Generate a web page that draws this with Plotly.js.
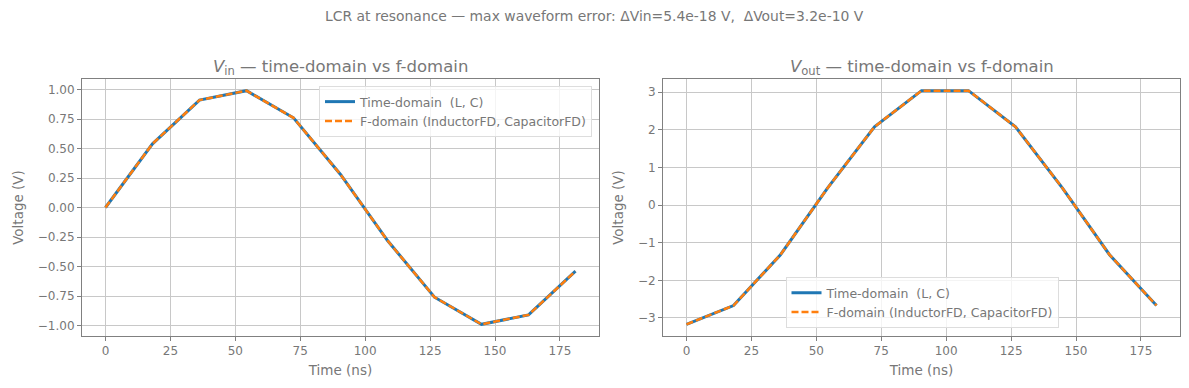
<!DOCTYPE html>
<html><head><meta charset="utf-8">
<script src="https://cdn.plot.ly/plotly-3.0.1.min.js"></script>
<style>html,body{margin:0;padding:0;background:#fff}#chart{width:1189px;height:388px}</style>
</head><body><div id="chart"></div>
<script>
const time_ns = [0, 18.1, 36.2, 54.3, 72.4, 90.5, 108.6, 126.7, 144.8, 162.9, 181.0];
const vin_td = [0, 0.54, 0.91, 0.99, 0.76, 0.28, -0.28, -0.76, -0.99, -0.91, -0.54];
const vin_fd = [0, 0.54, 0.91, 0.99, 0.76, 0.28, -0.28, -0.76, -0.99, -0.91, -0.54];
const vout_td = [-3.17, -2.67, -1.32, 0.45, 2.08, 3.04, 3.04, 2.08, 0.45, -1.32, -2.67];
const vout_fd = [-3.17, -2.67, -1.32, 0.45, 2.08, 3.04, 3.04, 2.08, 0.45, -1.32, -2.67];
const seriesNames = ["Time-domain\u00a0 (L, C)", "F-domain (InductorFD, CapacitorFD)"];
const suptitle = "LCR at resonance \u2014 max waveform error: \u0394Vin=5.4e-18 V,\u00a0 \u0394Vout=3.2e-10 V";
const titleIn = "<i>V</i><sub>in</sub> \u2014 time-domain vs f-domain";
const titleOut = "<i>V</i><sub>out</sub> \u2014 time-domain vs f-domain";

const W = 1189, H = 388;
const TXT = "#777777", SPINE = "#808080", GRID = "#c8c8c8";
const FONT = "DejaVu Sans, sans-serif";
const px = v => v / W, py = v => 1 - v / H;

const blue = "#1f77b4", orange = "#ff7f0e";
function tr(y, i, xa, ya, lg) {
  return {
    x: time_ns, y: y, type: "scatter", mode: "lines",
    name: seriesNames[i], xaxis: xa, yaxis: ya, legend: lg,
    line: i === 0 ? {color: blue, width: 3} : {color: orange, width: 2.5, dash: "7px,3px"}
  };
}
const data = [
  tr(vin_td, 0, "x", "y", "legend"),
  tr(vin_fd, 1, "x", "y", "legend"),
  tr(vout_td, 0, "x2", "y2", "legend2"),
  tr(vout_fd, 1, "x2", "y2", "legend2")
];

const xcommon = {
  range: [-9.05, 190.05], tickvals: [0, 25, 50, 75, 100, 125, 150, 175],
  showline: true, mirror: true, linecolor: SPINE, linewidth: 1,
  showgrid: true, gridcolor: GRID, gridwidth: 1, zeroline: false,
  ticks: "outside", ticklen: 4, tickcolor: SPINE,
  tickfont: {family: FONT, size: 12, color: TXT},
  title: {text: "Time (ns)", font: {family: FONT, size: 13.5, color: TXT}, standoff: 8}
};
const ycommon = {
  showline: true, mirror: true, linecolor: SPINE, linewidth: 1,
  showgrid: true, gridcolor: GRID, gridwidth: 1, zeroline: false,
  ticks: "outside", ticklen: 4, tickcolor: SPINE,
  tickfont: {family: FONT, size: 12, color: TXT},
  title: {text: "Voltage (V)", font: {family: FONT, size: 13.5, color: TXT}, standoff: 11}
};
const legendCommon = {
  bgcolor: "rgba(255,255,255,0.8)", bordercolor: "#dddddd", borderwidth: 1,
  font: {family: FONT, size: 12.5, color: TXT}, tracegroupgap: 0,
  itemwidth: 30
};

const layout = {
  width: W, height: H, margin: {l: 0, r: 0, t: 0, b: 0},
  paper_bgcolor: "#fff", plot_bgcolor: "#fff",
  font: {family: FONT, color: TXT},
  showlegend: true,
  xaxis: Object.assign({}, xcommon, {domain: [px(82), px(599)], anchor: "y"}),
  yaxis: Object.assign({}, ycommon, {domain: [py(336), py(79)], anchor: "x",
    range: [-1.089, 1.089], tickvals: [-1, -0.75, -0.5, -0.25, 0, 0.25, 0.5, 0.75, 1], tickformat: ".2f"}),
  xaxis2: Object.assign({}, xcommon, {domain: [px(663), px(1180)], anchor: "y2"}),
  yaxis2: Object.assign({}, ycommon, {domain: [py(336), py(79)], anchor: "x2",
    range: [-3.48, 3.35], tickvals: [-3, -2, -1, 0, 1, 2, 3]}),
  legend: Object.assign({}, legendCommon, {x: px(592), y: py(86), xanchor: "right", yanchor: "top"}),
  legend2: Object.assign({}, legendCommon, {x: px(922), y: py(328), xanchor: "center", yanchor: "bottom"}),
  annotations: [
    {text: suptitle, x: 0.5, y: py(16), xref: "paper", yref: "paper", showarrow: false,
     xanchor: "center", yanchor: "middle", font: {family: FONT, size: 13.9, color: TXT}},
    {text: titleIn, x: px(340.5), y: py(67), xref: "paper", yref: "paper", showarrow: false,
     xanchor: "center", yanchor: "middle", font: {family: FONT, size: 16.5, color: TXT}},
    {text: titleOut, x: px(921.5), y: py(67), xref: "paper", yref: "paper", showarrow: false,
     xanchor: "center", yanchor: "middle", font: {family: FONT, size: 16.5, color: TXT}}
  ]
};
Plotly.newPlot("chart", data, layout, {displayModeBar: false, staticPlot: true});
</script></body></html>
